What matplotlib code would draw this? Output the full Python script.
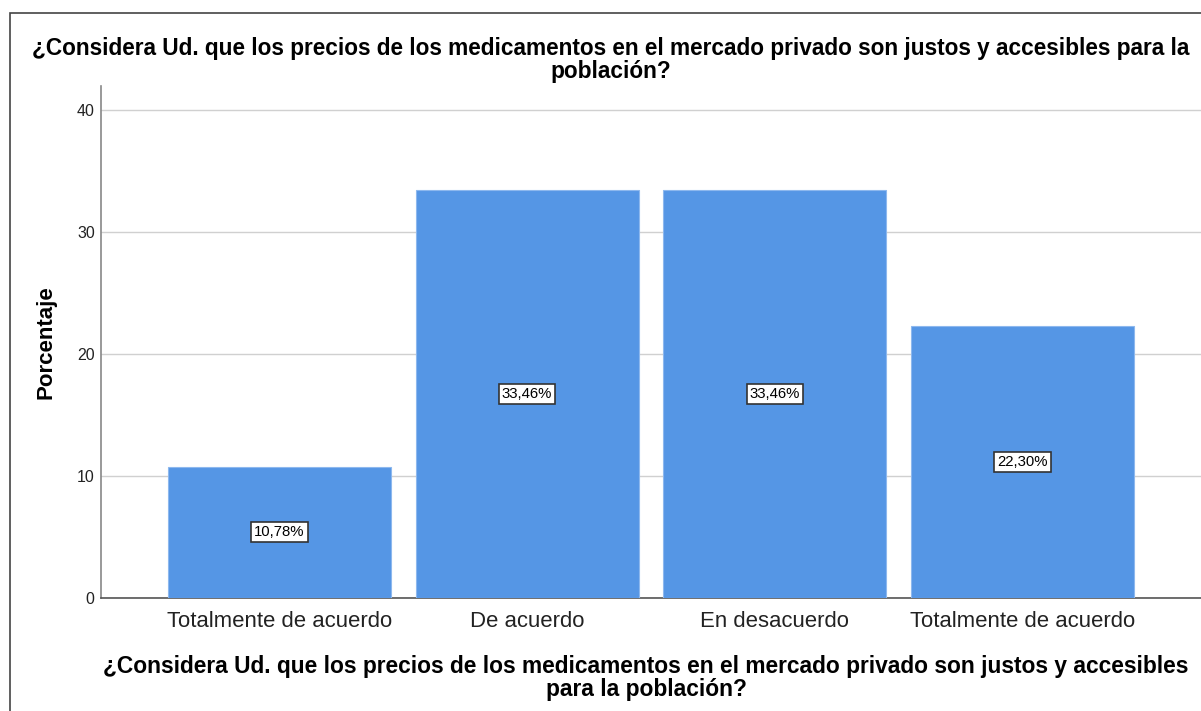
import matplotlib
matplotlib.use("Agg")
from matplotlib import pyplot as plt
from matplotlib.patches import Rectangle

# datos del grafico
categorias = ["Totalmente de acuerdo", "De acuerdo", "En desacuerdo", "Totalmente de acuerdo"]
porcentajes = [10.78, 33.46, 33.46, 22.30]
etiquetas = ["10,78%", "33,46%", "33,46%", "22,30%"]
pregunta = ("¿Considera Ud. que los precios de los medicamentos en el mercado privado "
            "son justos y accesibles para la\npoblación?")
pregunta_eje = ("¿Considera Ud. que los precios de los medicamentos en el mercado privado "
                "son justos y accesibles\npara la población?")

plt.rcParams["font.family"] = ["Liberation Sans", "DejaVu Sans"]

fig = plt.figure(figsize=(12.01, 7.11), dpi=100)
ax = fig.add_axes([101 / 1201, 1 - 598 / 711, 1 - 101 / 1201, (598 - 86) / 711])

x = list(range(len(categorias)))
ax.bar(x, porcentajes, width=0.9, color="#5596E5", edgecolor="#8DB8EE", linewidth=0.8, zorder=3)

for xi, val, txt in zip(x, porcentajes, etiquetas):
    ax.text(xi, val / 2, txt, ha="center", va="center", fontsize=10.7, color="black", zorder=4,
            bbox=dict(boxstyle="square,pad=0.2", facecolor="white", edgecolor="#333333", linewidth=1.2))

ax.set_xlim(-0.72, 3.72)
ax.set_ylim(0, 42)
ax.set_yticks([0, 10, 20, 30, 40])
ax.set_xticks(x)
ax.set_xticklabels(categorias, fontsize=15.9, color="#222222")
ax.tick_params(axis="y", length=0, labelsize=11.5, pad=4.5, colors="#222222")
ax.tick_params(axis="x", length=0, pad=9.5)
ax.grid(axis="y", color="#D0D0D0", linewidth=1, zorder=0)

for lado in ["top", "right"]:
    ax.spines[lado].set_visible(False)
ax.spines["left"].set_color("#888888")
ax.spines["bottom"].set_color("#555555")
ax.spines["left"].set_linewidth(1.2)
ax.spines["bottom"].set_linewidth(1.2)

ax.set_ylabel("Porcentaje", fontsize=16, fontweight="bold")
ax.yaxis.set_label_coords((56 - 101) / 1100, 0.5)
fig.text(611 / 1201, 1 - 60 / 711, pregunta, ha="center", va="center", fontsize=16.3,
         fontweight="bold", linespacing=1.0)
fig.text(646 / 1201, 1 - 678 / 711, pregunta_eje, ha="center", va="center", fontsize=16.4,
         fontweight="bold", linespacing=1.0)

# marco exterior
fig.patches.append(Rectangle((9.5 / 1201, -0.1), 1.2, 1.1 - 12.5 / 711, transform=fig.transFigure,
                             fill=False, edgecolor="#444444", linewidth=1.2, figure=fig))

fig.savefig("out.png", dpi=100)
